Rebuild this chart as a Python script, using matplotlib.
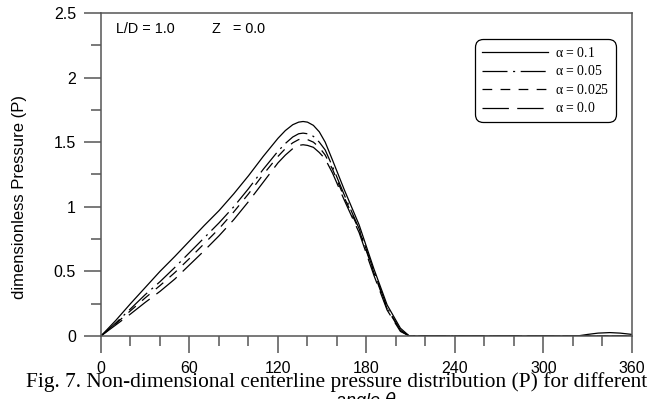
import matplotlib.pyplot as plt

plt.rcParams['lines.scale_dashes'] = False

# angolo theta (gradi) e pressure adimensionale P
theta = [0, 10, 20, 30, 40, 50, 60, 70, 80, 90, 100, 110, 120, 125, 130, 134,
         137, 140, 144, 148, 152, 157, 165, 175, 185, 194, 203, 209, 215,
         240, 300, 323, 330, 337, 345, 352, 360]

p_01 = [0, 0.12, 0.25, 0.375, 0.50, 0.615, 0.735, 0.855, 0.97, 1.10, 1.24,
        1.39, 1.53, 1.59, 1.635, 1.655, 1.66, 1.655, 1.63, 1.58, 1.50, 1.36,
        1.13, 0.86, 0.52, 0.24, 0.06, 0, 0, 0, 0, 0, 0.012, 0.022, 0.026,
        0.022, 0.012]
p_005 = [0, 0.10, 0.21, 0.32, 0.42, 0.53, 0.645, 0.76, 0.875, 1.0, 1.14,
         1.29, 1.43, 1.49, 1.54, 1.565, 1.57, 1.565, 1.545, 1.50, 1.44, 1.31,
         1.09, 0.83, 0.50, 0.22, 0.045, 0, 0, 0, 0, 0, 0, 0, 0, 0, 0]
p_0025 = [0, 0.095, 0.195, 0.295, 0.39, 0.49, 0.60, 0.715, 0.83, 0.96, 1.10,
          1.25, 1.39, 1.45, 1.495, 1.52, 1.525, 1.52, 1.50, 1.46, 1.40, 1.29,
          1.07, 0.82, 0.49, 0.21, 0.04, 0, 0, 0, 0, 0, 0, 0, 0, 0, 0]
p_00 = [0, 0.085, 0.17, 0.26, 0.345, 0.44, 0.55, 0.66, 0.775, 0.90, 1.04,
        1.19, 1.34, 1.40, 1.45, 1.475, 1.48, 1.475, 1.46, 1.42, 1.37, 1.26,
        1.05, 0.80, 0.47, 0.20, 0.035, 0, 0, 0, 0, 0, 0, 0, 0, 0, 0]

labels = [r"$\mathrm{\alpha}$ = 0.1", r"$\mathrm{\alpha}$ = 0.05",
          r"$\mathrm{\alpha}$ = 0.025", r"$\mathrm{\alpha}$ = 0.0"]

plt.rcParams['mathtext.fontset'] = 'custom'
plt.rcParams['mathtext.rm'] = 'Liberation Serif'

fig = plt.figure(figsize=(6.61, 3.99), dpi=100)
ax = fig.add_axes([0.1528, 0.158, 0.8033, 0.8095])

lw = 0.9
ax.plot(theta, p_01, color="black", lw=lw, label=labels[0])
ax.plot(theta, p_005, color="black", lw=lw, dashes=(18, 4, 1.5, 4), label=labels[1])
ax.plot(theta, p_0025, color="black", lw=lw, dashes=(7, 6), label=labels[2])
ax.plot(theta, p_00, color="black", lw=lw, dashes=(19, 6), label=labels[3])

ax.set_xlim(0, 360)
ax.set_ylim(0, 2.5)
ax.set_xticks(range(0, 361, 60))
ax.set_xticks(range(0, 361, 20), minor=True)
ax.set_yticks([0, 0.5, 1, 1.5, 2, 2.5])
ax.set_yticklabels(["0", "0.5", "1", "1.5", "2", "2.5"])
ax.set_yticks([0.25, 0.75, 1.25, 1.75, 2.25], minor=True)

for s in ax.spines.values():
    s.set_color("#555555")
    s.set_linewidth(1.1)

ax.tick_params(which="major", direction="out", length=12, width=1.1,
               color="#555555", labelsize=11.5, pad=6)
ax.tick_params(which="minor", direction="out", length=7, width=1.1,
               color="#555555")
ax.tick_params(axis="x", which="major", pad=6)
for t in ax.get_xticklabels() + ax.get_yticklabels():
    t.set_fontfamily("Liberation Sans")

ax.text(10.2, 2.376, "L/D = 1.0", fontsize=10.4, family="Liberation Sans",
        va="center")
ax.text(75.3, 2.376, "Z   = 0.0", fontsize=10.4, family="Liberation Sans",
        va="center")

leg = ax.legend(loc="upper right", bbox_to_anchor=(0.970, 0.9195),
                prop={"family": "Liberation Serif", "size": 9.9},
                handlelength=4.8, labelspacing=0.33, handletextpad=0.5,
                borderpad=0.5, borderaxespad=0, fancybox=True, framealpha=1)
leg.get_frame().set_edgecolor("black")
leg.get_frame().set_linewidth(0.9)
leg.get_frame().set_boxstyle("round,pad=0,rounding_size=0.6")

fig.text(20 / 661, 1 - 197 / 399, "dimensionless Pressure (P)", rotation=90,
         fontsize=12, family="Liberation Sans", ha="center", va="center")
fig.text(366 / 661, 1 - 401 / 399, r"angle $\theta$", fontsize=13,
         family="Liberation Sans", style="italic", ha="center", va="center")
fig.text(337 / 661, 1 - 387 / 399,
         "Fig. 7. Non-dimensional centerline pressure distribution (P) for different",
         fontsize=15.4, family="Liberation Serif", ha="center", va="baseline")

fig.savefig("out.png", dpi=100)
